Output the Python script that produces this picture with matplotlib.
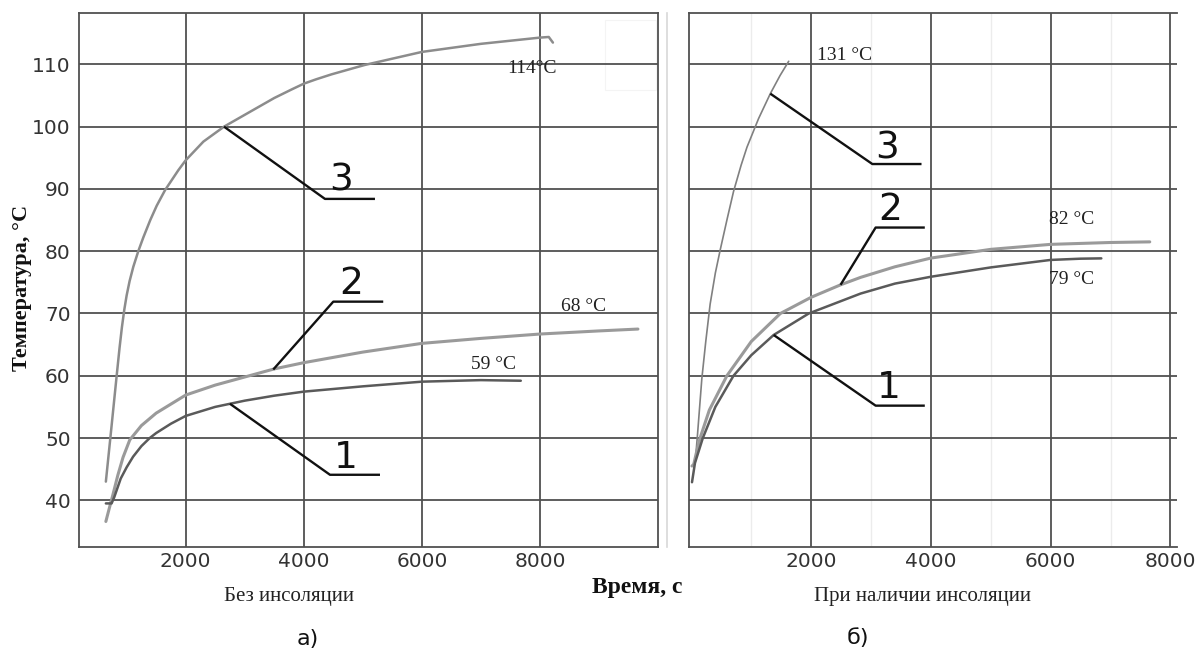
import matplotlib
matplotlib.use("Agg")
import matplotlib.pyplot as plt
from matplotlib.lines import Line2D
from matplotlib.patches import Rectangle

# ---------------- data: panel a) (no insolation) ----------------
a_c1_x = [648, 745, 790, 900, 1000, 1109, 1250, 1391, 1500, 1750, 2000, 2500, 3000, 3500, 4000, 5000, 6000, 7000, 7676]
a_c1_y = [39.5, 39.5, 40.5, 43.5, 45.3, 47.0, 48.7, 50.0, 50.8, 52.3, 53.55, 55.0, 56.0, 56.8, 57.45, 58.3, 59.05, 59.3, 59.2]
a_c2_x = [648, 700, 770, 850, 939, 1053, 1250, 1500, 2000, 2500, 3000, 3500, 4000, 5000, 6000, 7000, 8000, 9000, 9660]
a_c2_y = [36.6, 38.5, 41.0, 44.0, 46.9, 49.7, 52.0, 54.0, 56.9, 58.5, 59.8, 61.1, 62.1, 63.8, 65.2, 66.0, 66.7, 67.2, 67.5]
a_c3_x = [648, 740, 831, 880, 920, 960, 1000, 1050, 1113, 1197, 1282, 1400, 1509, 1650, 1875, 2000, 2300, 2649,
          3000, 3500, 3800, 4000, 4208, 4470, 5030, 6000, 7000, 8000, 8150, 8220]
a_c3_y = [43.0, 51.5, 60.0, 64.5, 67.8, 70.6, 72.9, 75.2, 77.5, 80.0, 82.2, 85.0, 87.3, 89.8, 93.0, 94.6, 97.6, 100.0,
          101.9, 104.6, 106.0, 106.9, 107.6, 108.4, 109.9, 112.0, 113.3, 114.3, 114.4, 113.5]

# ---------------- data: panel б) (with insolation) ----------------
b_c1_x = [10, 60, 191, 400, 703, 1000, 1374, 1960, 2826, 3400, 4000, 5000, 6000, 6500, 6846]
b_c1_y = [42.9, 46.0, 50.0, 55.0, 60.0, 63.3, 66.55, 70.0, 73.2, 74.8, 75.9, 77.4, 78.6, 78.8, 78.85]
b_c2_x = [10, 40, 80, 145, 300, 593, 1000, 1486, 2000, 2491, 2826, 3400, 4000, 5000, 6000, 7000, 7655]
b_c2_y = [45.5, 45.8, 47.5, 50.0, 54.5, 60.0, 65.5, 70.0, 72.6, 74.6, 75.8, 77.5, 78.9, 80.3, 81.1, 81.4, 81.5]
b_c3_x = [62, 100, 174, 240, 313, 400, 481, 600, 704, 830, 928, 1122, 1318, 1480, 1625]
b_c3_y = [45.9, 50.3, 59.5, 65.5, 71.5, 76.5, 80.2, 85.3, 89.6, 93.8, 96.7, 101.3, 105.3, 108.2, 110.5]

# leader lines (curve point -> elbow -> end) and numbers
a_leaders = {
    "3": ([2649, 4359, 5206], [100.0, 88.4, 88.4], (4627, 91.3)),
    "2": ([3483, 4500, 5346], [61.0, 71.9, 71.9], (4796, 74.7)),
    "1": ([2750, 4444, 5291], [55.5, 44.1, 44.1], (4711, 46.75)),
}
b_leaders = {
    "3": ([1318, 3022, 3843], [105.3, 94.0, 94.0], (3273, 96.5)),
    "2": ([2491, 3077, 3898], [74.6, 83.8, 83.8], (3327, 86.6)),
    "1": ([1374, 3077, 3898], [66.55, 55.2, 55.2], (3300, 58.0)),
}
a_temps = [("114°C", 7859, 109.3), ("68 °C", 8740, 71.1), ("59 °C", 7209, 61.8)]
b_temps = [("131 °C", 2554, 111.4), ("82 °C", 6357, 85.13), ("79 °C", 6357, 75.45)]

x_ticks = [2000, 4000, 6000, 8000]
y_ticks = [40, 50, 60, 70, 80, 90, 100, 110]

# ---------------- figure ----------------
fig = plt.figure(figsize=(12.03, 6.5), dpi=100)
fig.patch.set_facecolor("white")

ax1 = fig.add_axes([79 / 1203, 103.3 / 650, 579 / 1203, 534 / 650])
ax2 = fig.add_axes([689 / 1203, 103.3 / 650, 488 / 1203, 534 / 650])

GRID = "#505050"
LIGHT = "#9a9a9a"
DARK = "#5a5a5a"
TICKFONT = dict(family="DejaVu Sans", size=14.5, color="#333333")

for ax in (ax1, ax2):
    ax.set_ylim(32.55, 118.3)
    ax.set_xticks(x_ticks)
    ax.set_yticks(y_ticks)
    ax.grid(True, color=GRID, linewidth=1.3, zorder=1)
    ax.tick_params(length=0, pad=4)
    for lab in ax.get_xticklabels():
        lab.set_fontfamily(TICKFONT["family"])
        lab.set_fontsize(TICKFONT["size"])
        lab.set_color(TICKFONT["color"])
    for sp in ax.spines.values():
        sp.set_color(GRID)
        sp.set_linewidth(1.3)

ax1.set_xlim(193, 10000)
ax2.set_xlim(-40, 8110)

ax1.set_yticklabels([str(v) for v in y_ticks])
for lab in ax1.get_yticklabels():
    lab.set_fontfamily(TICKFONT["family"])
    lab.set_fontsize(TICKFONT["size"])
    lab.set_color(TICKFONT["color"])
ax1.tick_params(axis="y", pad=6)
ax2.tick_params(axis="y", labelleft=False)
ax2.spines["right"].set_visible(False)

# faint minor grid on right panel
for xv in [1000, 3000, 5000, 7000]:
    ax2.axvline(xv, color="#ececec", linewidth=1.0, zorder=0.5)

# white patches (scan artifacts)
ax1.add_patch(Rectangle((9101, 105.9), 872, 11.2, facecolor="white", edgecolor="#f4f4f4",
                        linewidth=0.8, zorder=1.5))
ax2.add_patch(Rectangle((7131, 106.0), 820, 8.0, facecolor="white", edgecolor="none", zorder=1.5))

# curves
kw = dict(solid_joinstyle="round", solid_capstyle="round", zorder=3)
ax1.plot(a_c3_x, a_c3_y, color="#8c8c8c", linewidth=1.8, **kw)
ax1.plot(a_c2_x, a_c2_y, color=LIGHT, linewidth=2.2, **kw)
ax1.plot(a_c1_x, a_c1_y, color=DARK, linewidth=1.8, **kw)
ax2.plot(b_c3_x, b_c3_y, color="#808080", linewidth=1.2, **kw)
ax2.plot(b_c2_x, b_c2_y, color=LIGHT, linewidth=2.2, **kw)
ax2.plot(b_c1_x, b_c1_y, color=DARK, linewidth=1.8, **kw)

for ax, leaders in ((ax1, a_leaders), (ax2, b_leaders)):
    for num, (lx, ly, (tx, ty)) in leaders.items():
        ax.plot(lx, ly, color="#111111", linewidth=1.7, zorder=4, solid_capstyle="butt")
        ax.text(tx, ty, num, ha="center", va="center", fontsize=27,
                family="DejaVu Sans", color="#111111", zorder=5)

for ax, temps in ((ax1, a_temps), (ax2, b_temps)):
    for s, tx, ty in temps:
        ax.text(tx, ty, s, ha="center", va="center", fontsize=14,
                family="Liberation Serif", color="#222222", zorder=5)

# separator line between panels
fig.add_artist(Line2D([667 / 1203, 667 / 1203], [103.3 / 650, 637.3 / 650],
                      color="#d8d8d8", linewidth=1.2))

# texts
fig.text(21.7 / 1203, 1 - 288 / 650, "Температура, °С", rotation=90, ha="center", va="center",
         fontsize=16, fontweight="bold", family="Liberation Serif", color="#111111")
fig.text(637 / 1203, 1 - 588 / 650, "Время, с", ha="center", va="center",
         fontsize=17, fontweight="bold", family="Liberation Serif", color="#111111")
fig.text(289 / 1203, 1 - 596.7 / 650, "Без инсоляции", ha="center", va="center",
         fontsize=15, family="Liberation Serif", color="#222222")
fig.text(922 / 1203, 1 - 596.7 / 650, "При наличии инсоляции", ha="center", va="center",
         fontsize=15, family="Liberation Serif", color="#222222")
fig.text(308 / 1203, 1 - 639 / 650, "а)", ha="center", va="center",
         fontsize=16, family="DejaVu Sans", color="#111111")
fig.text(857.5 / 1203, 1 - 638 / 650, "б)", ha="center", va="center",
         fontsize=16, family="DejaVu Sans", color="#111111")

fig.savefig("out.png", dpi=100)
